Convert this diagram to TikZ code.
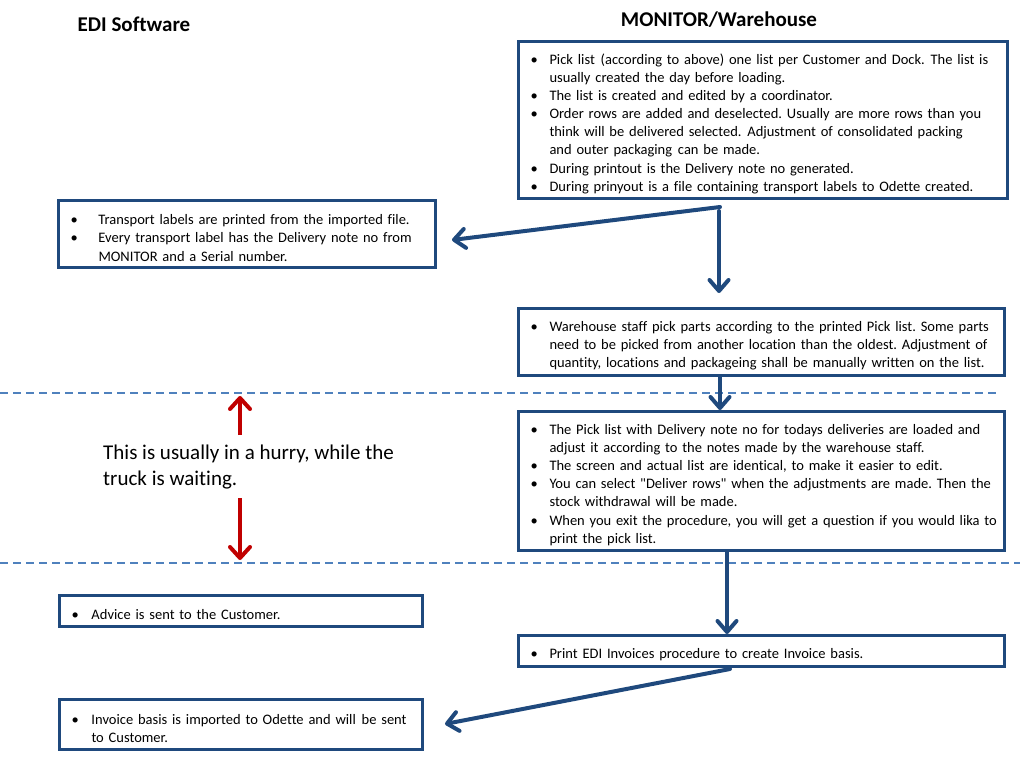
\documentclass[tikz,border=0pt]{standalone}
\usepackage{fontspec}
\setmainfont{Carlito}[Ligatures=NoCommon]
\usetikzlibrary{arrows.meta}
\frenchspacing
\definecolor{dblue}{RGB}{31,73,125}
\definecolor{lblue}{RGB}{79,129,189}
\definecolor{dred}{RGB}{192,0,0}
\newcommand{\bit}[2][19pt]{\par\noindent\hangindent=#1\hangafter=1\makebox[#1][l]{\textbullet}#2\par}
\newcommand{\lne}[1]{\mbox{#1}}
\newcommand{\dsp}{\ \hspace{1pt}}
\newcommand{\boxend}{\par\vspace{-7pt}}
\tikzset{
  box/.style={draw=dblue, line width=3pt, rectangle, anchor=north west, inner ysep=0pt,
    align=left, font=\fontsize{14.5}{18.1}\selectfont\frenchspacing},
  flow/.style={draw=dblue, line width=4pt, line cap=round,
    -{Straight Barb[length=11pt,width=19pt,line cap=round,line join=round]}},
  hurry/.style={draw=dred, line width=4pt,
    -{Straight Barb[length=11pt,width=20pt,line cap=round,line join=round]}},
  sep/.style={draw=lblue, line width=1.5pt, dash pattern=on 8pt off 5pt},
  head/.style={font=\fontsize{21}{25}\selectfont\bfseries},
}
\begin{document}
\begin{tikzpicture}[x=1pt,y=-1pt]
\useasboundingbox (0,0) rectangle (1020,762);
\node[head] (h1) at (134,24) {EDI Software};
\node[head] (h2) at (719,20) {MONITOR/Warehouse};

\node[box, inner xsep=12pt, text width=465pt, minimum width=489pt, minimum height=157pt] (b1) at (517,40) {%
\bit{\lne{Pick list\dsp(according to above) one list per Customer and Dock.\dsp The list is}\newline \lne{usually created the day before loading.}}
\bit{\lne{The list is created and edited by a coordinator.}}
\bit{\lne{Order rows are added and deselected. Usually are more rows than you}\newline \lne{think will be delivered selected.\dsp Adjustment of consolidated packing}\newline \lne{and outer packaging\dsp can be made.}}
\bit{\lne{During printout is the Delivery note no generated.}}
\bit{\lne{During prinyout is a file containing transport labels to Odette created.}}\boxend};

\node[box, inner xsep=12pt, text width=353pt, minimum width=377pt, minimum height=67pt] (b2) at (57,199) {%
\bit[28pt]{\lne{Transport labels are printed from the imported file.}}
\bit[28pt]{\lne{Every transport label has the Delivery note no from}\newline \lne{MONITOR and a Serial number.}}\boxend};

\node[box, inner xsep=12pt, text width=462pt, minimum width=486pt, minimum height=67pt] (b3) at (517,307) {%
\bit{\lne{Warehouse staff pick parts according to the printed Pick list. Some parts}\newline \lne{need to be picked from another location than the oldest. Adjustment of}\newline \lne{quantity, locations and packageing shall be manually written on the list.}}\boxend};

\node[box, inner xsep=12pt, text width=462pt, minimum width=486pt, minimum height=139pt] (b4) at (517,410) {%
\bit{\lne{The Pick list with Delivery note no for todays deliveries are loaded and}\newline \lne{adjust it according to the notes made by the warehouse staff.}}
\bit{\lne{The screen and actual list are identical, to make it easier to edit.}}
\bit{\lne{You can select \textquotedbl Deliver rows\textquotedbl{} when the adjustments are made. Then the}\newline \lne{stock withdrawal will be made.}}
\bit{\lne{When you exit the procedure, you will get\ a question if you would lika to}\newline \lne{print the pick list.}}\boxend};

\node[box, inner xsep=12pt, text width=339pt, minimum width=363pt, minimum height=31pt] (b5) at (58,594) {%
\bit[20pt]{\lne{Advice is sent to the Customer.}}\boxend};

\node[box, inner xsep=12pt, text width=462pt, minimum width=486pt, minimum height=31pt] (b6) at (517,634) {%
\bit{\lne{Print EDI Invoices procedure to create Invoice basis.}}\boxend};

\node[box, inner xsep=12pt, text width=339pt, minimum width=363pt, minimum height=50pt] (b7) at (58,698) {%
\bit[20pt]{\lne{Invoice basis is imported to Odette and will\dsp be sent}\newline \lne{to Customer.}}\boxend};

\node[anchor=west, inner sep=0pt, align=left, font=\fontsize{21}{26}\selectfont] (t) at (103,467)
  {This is usually in a hurry, while the\\ truck is waiting.};

% separators
\coordinate (s1l) at (0,393); \coordinate (s1r) at (1000,393);
\coordinate (s2l) at (0,563); \coordinate (s2r) at (1020,563);
\draw[sep] (s1l) -- (s1r);
\draw[sep] (s2l) -- (s2r);

% flow arrows
\coordinate (a1s) at (720,207); \coordinate (a1e) at (452,240);
\coordinate (a2s) at (719,211); \coordinate (a2e) at (719,293);
\coordinate (a5s) at (730,669); \coordinate (a5e) at (445,724);
\draw[flow] (a1s) -- (a1e);
\draw[flow] (a2s) -- (a2e);
\draw[flow] (b3.south -| 720,0) -- (b4.north -| 720,0);
\draw[flow] (b4.south -| 727,0) -- (b6.north -| 727,0);
\draw[flow] (a5s) -- (a5e);

% red arrows
\coordinate (r1s) at (240,435); \coordinate (r1e) at (240,396);
\coordinate (r2s) at (240,498); \coordinate (r2e) at (240,560);
\draw[hurry] (r1s) -- (r1e);
\draw[hurry] (r2s) -- (r2e);
\end{tikzpicture}
\end{document}
